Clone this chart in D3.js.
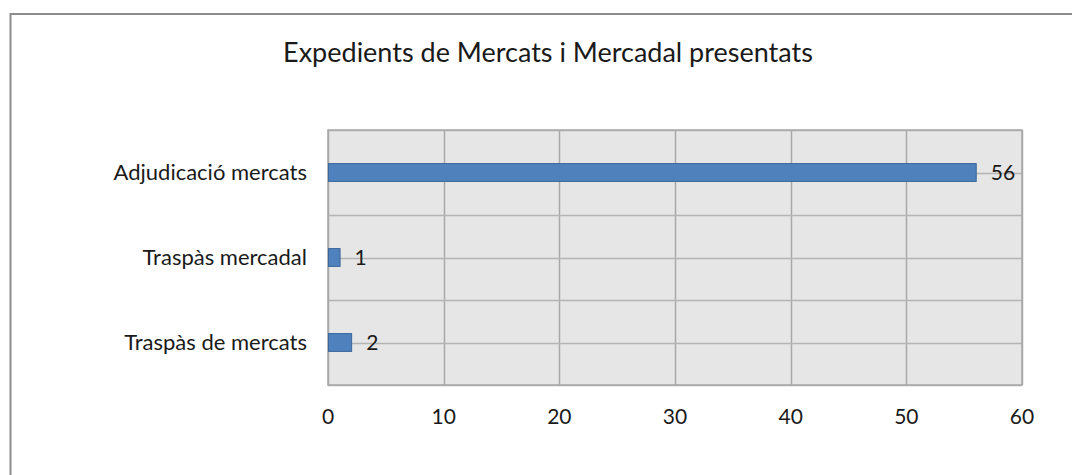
<!DOCTYPE html>
<html>
    <head>
        <meta charset="utf-8">
        <title>Expedients de Mercats i Mercadal presentats</title>
        <script src="https://cdnjs.cloudflare.com/ajax/libs/d3/7.8.5/d3.min.js"></script>
        <style>
            body { margin: 0; background: #ffffff; }
            text { font-family: Lato, "Open Sans", sans-serif; fill: #1a1a1a; }
        </style>
    </head>
    <body>
        <script type="text/javascript">

            // Data
            var categories = ["Adjudicació mercats", "Traspàs mercadal", "Traspàs de mercats"];
            var values = [56, 1, 2];
            var xTicks = [0, 10, 20, 30, 40, 50, 60];
            var title = "Expedients de Mercats i Mercadal presentats";

            // Canvas dimensions
            var svg_width = 1072;
            var svg_height = 475;

            // Plot area
            var plot_left = 328;
            var plot_top = 130;
            var plot_width = 694;
            var plot_height = 255;

            var svg = d3.select("body")
                        .append("svg")
                        .attr("width", svg_width)
                        .attr("height", svg_height);

            // Outer chart border
            svg.append("rect")
               .attr("x", 10.5)
               .attr("y", 14)
               .attr("width", 1080)
               .attr("height", 480)
               .attr("fill", "white")
               .attr("stroke", "#8c8c8c")
               .attr("stroke-width", 2);

            // Title
            svg.append("text")
               .attr("x", 548)
               .attr("y", 62)
               .attr("text-anchor", "middle")
               .style("font-size", "27px")
               .text(title);

            // Scales
            var xScale = d3.scaleLinear()
                           .domain([0, 60])
                           .range([0, plot_width]);

            var yScale = d3.scaleBand()
                           .domain(categories)
                           .range([0, plot_height])
                           .paddingInner(0.79)
                           .paddingOuter(0.395);

            var yOuter = d3.scaleBand()
                           .domain(categories)
                           .range([0, plot_height]);

            var plot = svg.append("g")
                          .attr("transform", "translate(" + plot_left + "," + plot_top + ")");

            // Plot background
            plot.append("rect")
                .attr("width", plot_width)
                .attr("height", plot_height)
                .attr("fill", "#e6e6e6");

            // Vertical gridlines
            plot.selectAll(".vgrid")
                .data(xTicks)
                .enter()
                .append("line")
                .attr("class", "vgrid")
                .attr("x1", function(d) { return Math.round(xScale(d)) + 0.5; })
                .attr("x2", function(d) { return Math.round(xScale(d)) + 0.5; })
                .attr("y1", 0)
                .attr("y2", plot_height)
                .attr("stroke", "#a8a8a8")
                .attr("stroke-width", 1.5);

            // Horizontal gridlines at category boundaries and centres
            var hLines = [];
            categories.forEach(function(c) {
                hLines.push(yOuter(c));
                hLines.push(yOuter(c) + yOuter.bandwidth() / 2);
            });
            hLines.push(plot_height);

            plot.selectAll(".hgrid")
                .data(hLines)
                .enter()
                .append("line")
                .attr("class", "hgrid")
                .attr("x1", 0)
                .attr("x2", plot_width)
                .attr("y1", function(d) { return Math.round(d) + 0.5; })
                .attr("y2", function(d) { return Math.round(d) + 0.5; })
                .attr("stroke", "#b4b4b4")
                .attr("stroke-width", 1.5);

            // Plot border
            plot.append("rect")
                .attr("width", plot_width)
                .attr("height", plot_height)
                .attr("fill", "none")
                .attr("stroke", "#a8a8a8")
                .attr("stroke-width", 1.5);

            // Bars
            plot.selectAll(".bar")
                .data(values)
                .enter()
                .append("rect")
                .attr("class", "bar")
                .attr("x", 0.5)
                .attr("y", function(d, i) { return yScale(categories[i]); })
                .attr("width", function(d) { return xScale(d); })
                .attr("height", yScale.bandwidth())
                .attr("fill", "#4f81bd")
                .attr("stroke", "#3b679b")
                .attr("stroke-width", 1);

            // Value labels
            plot.selectAll(".value")
                .data(values)
                .enter()
                .append("text")
                .attr("class", "value")
                .attr("x", function(d) { return xScale(d) + 15; })
                .attr("y", function(d, i) { return yScale(categories[i]) + yScale.bandwidth() / 2; })
                .attr("dy", "0.35em")
                .style("font-size", "21px")
                .text(function(d) { return d; });

            // Category labels
            svg.selectAll(".cat")
               .data(categories)
               .enter()
               .append("text")
               .attr("class", "cat")
               .attr("x", plot_left - 21)
               .attr("y", function(d) { return plot_top + yOuter(d) + yOuter.bandwidth() / 2; })
               .attr("dy", "0.35em")
               .attr("text-anchor", "end")
               .style("font-size", "22px")
               .text(function(d) { return d; });

            // X axis tick labels
            svg.selectAll(".xtick")
               .data(xTicks)
               .enter()
               .append("text")
               .attr("class", "xtick")
               .attr("x", function(d) { return plot_left + xScale(d); })
               .attr("y", plot_top + plot_height + 32)
               .attr("dy", "0.35em")
               .attr("text-anchor", "middle")
               .style("font-size", "21px")
               .text(function(d) { return d; });

        </script>
    </body>
</html>
